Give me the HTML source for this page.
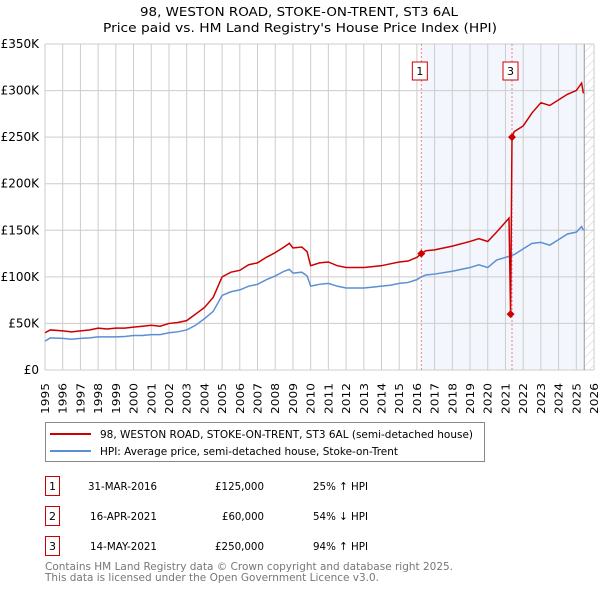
<!DOCTYPE html>
<html><head><meta charset="utf-8"><style>
body{margin:0;background:#fff;width:600px;height:590px;overflow:hidden}
svg{font-family:"DejaVu Sans","Liberation Sans",sans-serif}
</style></head><body>
<svg id="c" width="600" height="590" xmlns="http://www.w3.org/2000/svg">
<text x="140" y="16" font-size="12" textLength="318" lengthAdjust="spacingAndGlyphs">98, WESTON ROAD, STOKE-ON-TRENT, ST3 6AL</text>
<text x="103" y="32" font-size="12" textLength="394" lengthAdjust="spacingAndGlyphs">Price paid vs. HM Land Registry's House Price Index (HPI)</text>
<g id="plot"></g>
<rect x="45.5" y="422.5" width="439" height="39" fill="#fff" stroke="#888"/>
<line x1="50" y1="434" x2="91" y2="434" stroke="#cc0000" stroke-width="2"/>
<text x="100" y="438" font-size="11" textLength="373" lengthAdjust="spacingAndGlyphs">98, WESTON ROAD, STOKE-ON-TRENT, ST3 6AL (semi-detached house)</text>
<line x1="50" y1="451" x2="91" y2="451" stroke="#5b8fd4" stroke-width="2"/>
<text x="100" y="455" font-size="11" textLength="298" lengthAdjust="spacingAndGlyphs">HPI: Average price, semi-detached house, Stoke-on-Trent</text>
<g font-size="11">
<rect x="45.5" y="476.5" width="14" height="19" fill="#fff" stroke="#cc0000"/><text x="52.5" y="490" text-anchor="middle">1</text>
<text x="88" y="490" textLength="69" lengthAdjust="spacingAndGlyphs">31-MAR-2016</text><text x="215" y="490" textLength="49" lengthAdjust="spacingAndGlyphs">£125,000</text><text x="313" y="490" textLength="55" lengthAdjust="spacingAndGlyphs">25% ↑ HPI</text>
<rect x="45.5" y="506.5" width="14" height="19" fill="#fff" stroke="#cc0000"/><text x="52.5" y="520" text-anchor="middle">2</text>
<text x="90" y="520" textLength="67" lengthAdjust="spacingAndGlyphs">16-APR-2021</text><text x="222" y="520" textLength="42" lengthAdjust="spacingAndGlyphs">£60,000</text><text x="313" y="520" textLength="55" lengthAdjust="spacingAndGlyphs">54% ↓ HPI</text>
<rect x="45.5" y="536.5" width="14" height="19" fill="#fff" stroke="#cc0000"/><text x="52.5" y="550" text-anchor="middle">3</text>
<text x="90" y="550" textLength="67" lengthAdjust="spacingAndGlyphs">14-MAY-2021</text><text x="215" y="550" textLength="49" lengthAdjust="spacingAndGlyphs">£250,000</text><text x="313" y="550" textLength="55" lengthAdjust="spacingAndGlyphs">94% ↑ HPI</text>
</g>
<text x="45" y="570" font-size="11" fill="#777" textLength="408" lengthAdjust="spacingAndGlyphs">Contains HM Land Registry data © Crown copyright and database right 2025.</text>
<text x="45" y="581" font-size="11" fill="#777" textLength="334" lengthAdjust="spacingAndGlyphs">This data is licensed under the Open Government Licence v3.0.</text>
</svg>
<script>
const yTicks=[0,50,100,150,200,250,300,350];
const yTickLabels=["£0","£50K","£100K","£150K","£200K","£250K","£300K","£350K"];
const years=[1995,1996,1997,1998,1999,2000,2001,2002,2003,2004,2005,2006,2007,2008,2009,2010,2011,2012,2013,2014,2015,2016,2017,2018,2019,2020,2021,2022,2023,2024,2025,2026];
const hpiT=[1995,1995.3,1996,1996.5,1997,1997.5,1998,1998.5,1999,1999.5,2000,2000.5,2001,2001.5,2002,2002.5,2003,2003.5,2004,2004.5,2005,2005.5,2006,2006.5,2007,2007.5,2008,2008.5,2008.8,2009,2009.5,2009.8,2010,2010.5,2011,2011.5,2012,2012.5,2013,2013.5,2014,2014.5,2015,2015.5,2016,2016.25,2016.5,2017,2018,2019,2019.5,2020,2020.5,2021.2,2021.5,2022,2022.5,2023,2023.5,2024,2024.5,2025,2025.3,2025.4];
const hpiV=[31,34.5,34,33,34,34.5,35.5,35.5,35.5,36,37,37,38,38,40,41,43,48,55,63,80,84,86,90,92,97,101,106,108,104,105,101,90,92,93,90,88,88,88,89,90,91,93,94,97,100,102,103,106,110,113,110,118,122,124,130,136,137,134,140,146,148,154,150];
const priceT=[1995,1995.3,1996,1996.5,1997,1997.5,1998,1998.5,1999,1999.5,2000,2000.5,2001,2001.5,2002,2002.5,2003,2003.5,2004,2004.5,2005,2005.5,2006,2006.5,2007,2007.5,2008,2008.5,2008.8,2009,2009.5,2009.8,2010,2010.5,2011,2011.5,2012,2012.5,2013,2013.5,2014,2014.5,2015,2015.5,2016,2016.25,2016.5,2017,2018,2019,2019.5,2020,2020.5,2021.2,2021.29,2021.37,2021.5,2022,2022.5,2023,2023.5,2024,2024.5,2025,2025.3,2025.4];
const priceV=[40,43,42,41,42,43,45,44,45,45,46,47,48,47,50,51,53,60,67,78,100,105,107,113,115,121,126,132,136,131,132,127,112,115,116,112,110,110,110,111,112,114,116,117,121,125,128,129,133,138,141,138,148,163,60,250,256,262,276,287,284,290,296,300,308,297];
const saleT=[2016.25,2021.29,2021.37];
const saleV=[125,60,250];
const saleLabels=["1","2","3"];
const X0=45,X1=594,Y0=370,Y1=44;
const xs=t=>X0+(t-1995)/(2026-1995)*(X1-X0);
const ys=v=>Y0-v/350*(Y0-Y1);
const NS="http://www.w3.org/2000/svg";
const g=document.getElementById('plot');
function mk(tag,a,parent){const e=document.createElementNS(NS,tag);for(const k in a)e.setAttribute(k,a[k]);(parent||g).appendChild(e);return e;}
let e=mk('rect',{x:xs(2016.25),y:Y1,width:xs(2025.45)-xs(2016.25),height:Y0-Y1,fill:'#eef3fc',opacity:0.7});


const defs=mk('defs',{});
const pat=mk('pattern',{id:'h',width:6,height:6,patternUnits:'userSpaceOnUse',patternTransform:'rotate(45)'},defs);
mk('line',{x1:0,y1:0,x2:0,y2:6,stroke:'#ccc','stroke-width':1},pat);
e=mk('rect',{x:xs(2025.45),y:Y1,width:X1-xs(2025.45),height:Y0-Y1,fill:'url(#h)'});


years.forEach(y=>{const x=xs(y);
 e=mk('line',{x1:x,y1:Y1,x2:x,y2:Y0,stroke:'#ccc'});
 
 
 e=mk('text',{x:0,y:0,'font-size':11,textLength:31,lengthAdjust:'spacingAndGlyphs',transform:`translate(${x+4},414) rotate(-90)`});
 e.textContent=y;
 
 
});
yTicks.forEach((v,i)=>{const y=ys(v);
 e=mk('line',{x1:X0,y1:y,x2:X1,y2:y,stroke:'#ccc'});
 
 
 e=mk('text',{x:39,y:y+4,'font-size':12,'text-anchor':'end'});
 e.textContent=yTickLabels[i];
 
 
});
e=mk('line',{x1:xs(2025.45),y1:Y1,x2:xs(2025.45),y2:Y0,stroke:'#999'});


saleT.forEach((t,i)=>{if(i===1)return;
 e=mk('line',{x1:xs(t),y1:Y1,x2:xs(t),y2:Y0,stroke:'#f08080','stroke-dasharray':'2,2'});
 
 
});
e=mk('polyline',{points:hpiT.map((t,i)=>xs(t)+','+ys(hpiV[i])).join(' '),fill:'none',stroke:'#5b8fd4','stroke-width':1.5});


e=mk('polyline',{points:priceT.map((t,i)=>xs(t)+','+ys(priceV[i])).join(' '),fill:'none',stroke:'#cc0000','stroke-width':1.5});


saleT.forEach((t,i)=>{const x=xs(t),y=ys(saleV[i]);
 e=mk('polygon',{points:`${x},${y-4} ${x+4},${y} ${x},${y+4} ${x-4},${y}`,fill:'#cc0000'});
 
 
});
[0,2].forEach(i=>{const x=xs(saleT[i]);
 e=mk('rect',{x:x-9,y:62,width:15,height:18,fill:'#fff',stroke:'#cc0000'});
 
 
 e=mk('text',{x:x-1.5,y:75,'font-size':11,'text-anchor':'middle'});
 e.textContent=saleLabels[i];
 
 
});
</script>
</body></html>
